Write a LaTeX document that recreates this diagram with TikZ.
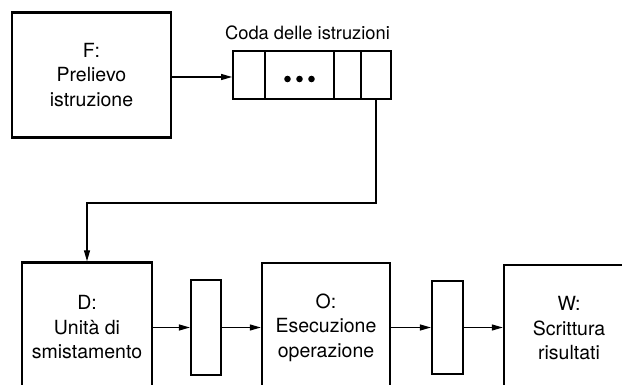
\documentclass[tikz,border=0pt]{standalone}
\usepackage{fontspec}
\setmainfont{TeX Gyre Heros}
\usetikzlibrary{arrows.meta}
\tikzset{
  unit/.style={draw, line width=2.4pt, inner sep=0pt, align=center, font=\fontsize{19.5}{24.5}\selectfont},
  reg/.style={draw, line width=2.2pt, inner sep=0pt},
  cell/.style={draw, line width=1.8pt, inner sep=0pt, minimum height=48pt},
  conn/.style={line width=1.2pt, -{Triangle[length=11pt,width=6pt]}},
  wire/.style={line width=1.2pt}
}
\begin{document}
\begin{tikzpicture}[x=1pt,y=-1pt]
\useasboundingbox (0,0) rectangle (622,385);
\clip (0,0) rectangle (622,385);
% fetch unit
\node[unit, minimum width=159pt, minimum height=125pt] (F) at (91.5,75) {F:\\Prelievo\\istruzione};
% instruction queue
\node[cell, minimum width=32pt] (c1) at (249,75) {};
\node[cell, minimum width=69pt] (c2) at (299.5,75) {};
\node[cell, minimum width=27pt] (c3) at (347.5,75) {};
\node[cell, minimum width=30pt] (c4) at (376,75) {};
\fill (c2.center) ++(-12,4) circle (3.3pt) ++(12,0) circle (3.3pt) ++(12,0) circle (3.3pt);
\node[font=\fontsize{18.3}{22}\selectfont] (lab) at (307.5,33) {Coda delle istruzioni};
% lower pipeline
\node[unit, minimum width=130pt, minimum height=130pt] (D) at (87,327.5) {D:\\Unità di\\smistamento};
\node[reg, minimum width=30pt, minimum height=95pt] (R1) at (206,327.5) {};
\node[unit, minimum width=128pt, minimum height=129pt] (O) at (326,327.5) {O:\\Esecuzione\\operazione};
\node[reg, minimum width=31pt, minimum height=93pt] (R2) at (447.5,327.5) {};
\node[unit, minimum width=130pt, minimum height=127pt] (W) at (569,328.5) {W:\\Scrittura\\risultati};
% connectors
\draw[conn] (F.east |- 0,77) -- (c1.west |- 0,77);
\coordinate (bend) at (87,203);
\draw[conn] (c4.south) |- (bend) -- (D.north);
\draw[conn] (D.east) -- (R1.west);
\draw[conn] (R1.east) -- (O.west);
\draw[conn] (O.east) -- (R2.west);
\draw[conn] (R2.east) -- (W.west |- R2.east);
\end{tikzpicture}
\end{document}
